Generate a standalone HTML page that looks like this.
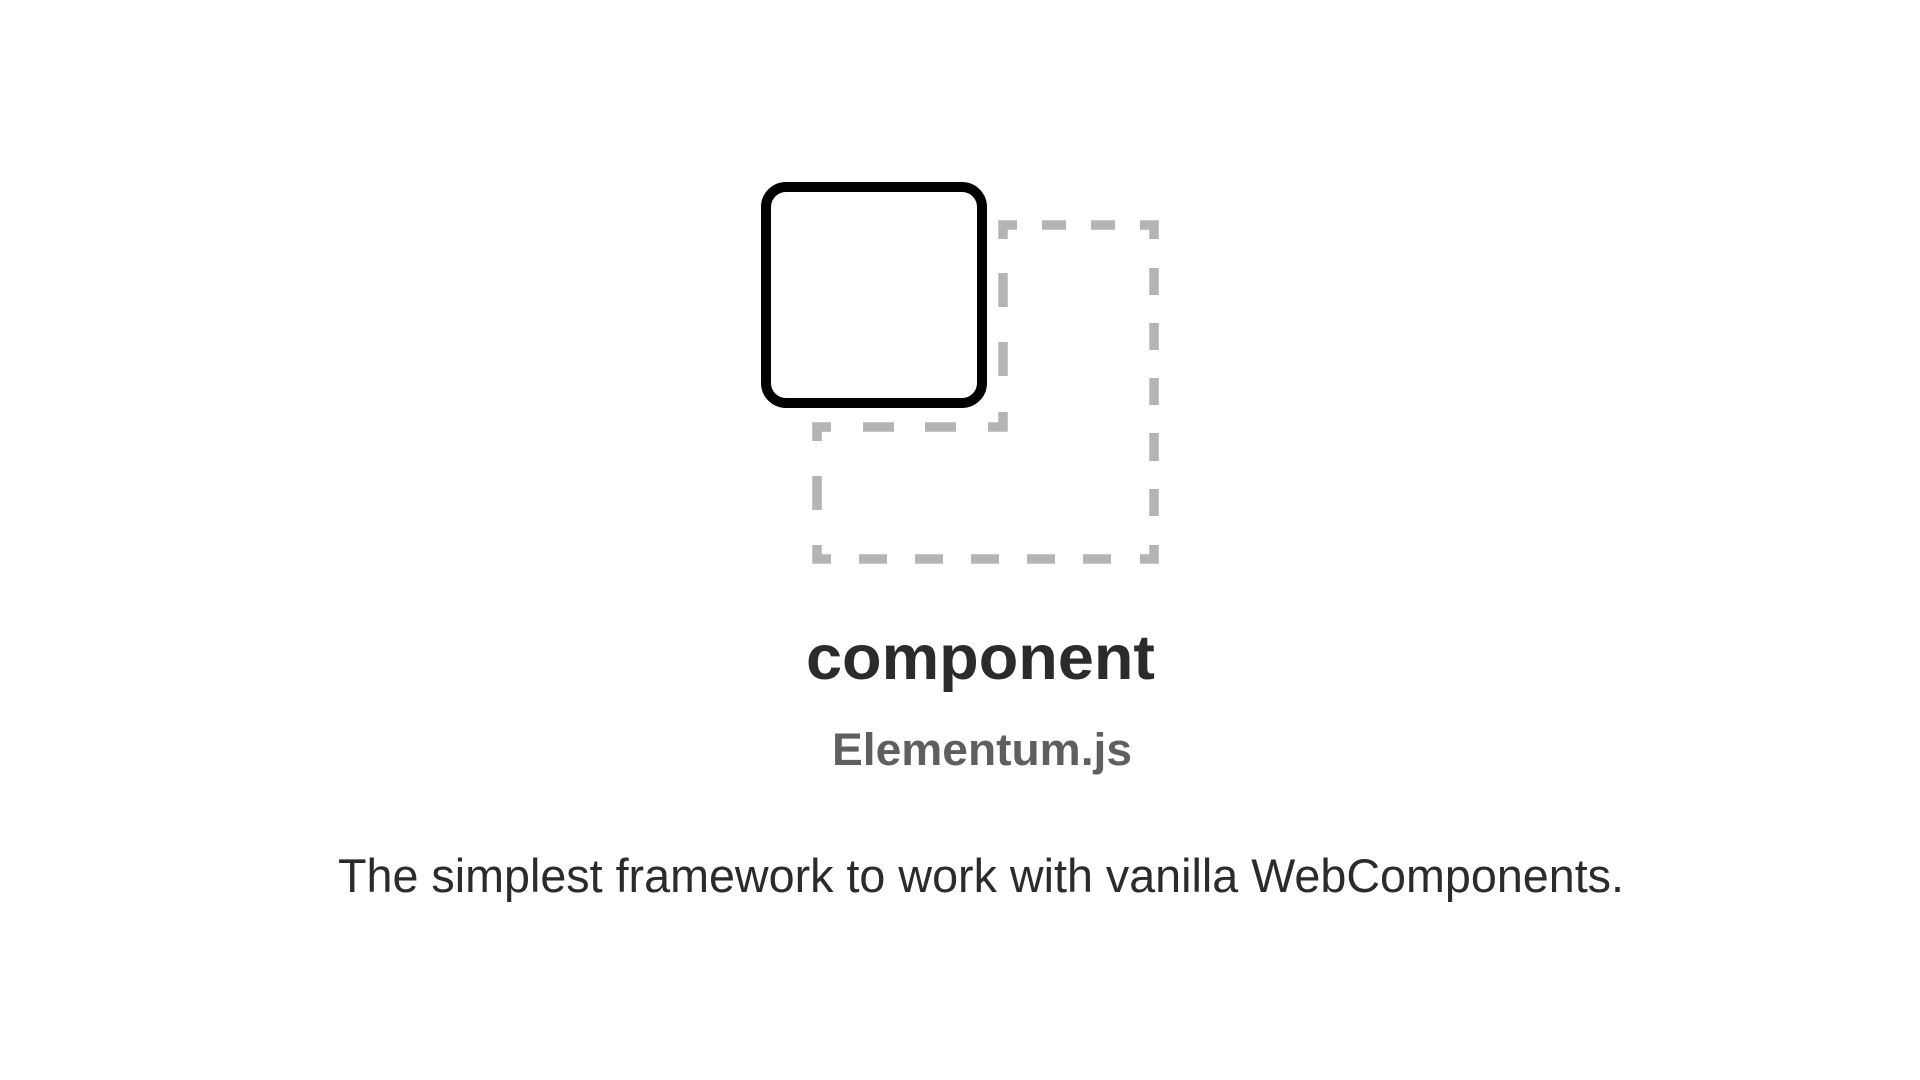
<!DOCTYPE html>
<html><head><meta charset="utf-8"><style>
html,body{margin:0;padding:0;background:#fff;width:1920px;height:1080px;overflow:hidden}
svg{display:block}
</style></head><body>
<svg width="1920" height="1080" viewBox="0 0 1920 1080" xmlns="http://www.w3.org/2000/svg">
<rect width="1920" height="1080" fill="#fff"/>
<g fill="none" stroke="#b4b4b4" stroke-width="9.5">
<path d="M1003 239 V225 H1017" />
<line x1="1042" y1="225" x2="1066" y2="225"/>
<line x1="1091" y1="225" x2="1115" y2="225"/>
<path d="M1140 225 H1154 V239"/>
<line x1="1154" y1="268" x2="1154" y2="295"/>
<line x1="1154" y1="323" x2="1154" y2="350"/>
<line x1="1154" y1="378" x2="1154" y2="405"/>
<line x1="1154" y1="433" x2="1154" y2="461"/>
<line x1="1154" y1="489" x2="1154" y2="516"/>
<path d="M1154 545 V559 H1140"/>
<line x1="1111" y1="559" x2="1083" y2="559"/>
<line x1="1055" y1="559" x2="1027" y2="559"/>
<line x1="999" y1="559" x2="971" y2="559"/>
<line x1="943" y1="559" x2="915" y2="559"/>
<line x1="887" y1="559" x2="859" y2="559"/>
<path d="M831 559 H817 V545"/>
<line x1="817" y1="510" x2="817" y2="476"/>
<path d="M817 441 V427 H831"/>
<line x1="863" y1="427" x2="894" y2="427"/>
<line x1="925" y1="427" x2="956" y2="427"/>
<path d="M988 427 H1003 V412"/>
<line x1="1003" y1="376" x2="1003" y2="342"/>
<line x1="1003" y1="307" x2="1003" y2="273"/>
</g>
<rect x="766" y="187" width="216" height="216" rx="20" ry="20" fill="#fff" stroke="#000" stroke-width="10"/>
<text x="806" y="679" textLength="349" lengthAdjust="spacingAndGlyphs" font-family="Liberation Sans, sans-serif" font-weight="bold" font-size="63" fill="#2b2b2b">component</text>
<text x="832" y="765" textLength="300" lengthAdjust="spacingAndGlyphs" font-family="Liberation Sans, sans-serif" font-weight="bold" font-size="45" fill="#5f5f5f">Elementum.js</text>
<text x="338" y="892" textLength="1286" lengthAdjust="spacingAndGlyphs" font-family="Liberation Sans, sans-serif" font-size="47" fill="#2b2b2b">The simplest framework to work with vanilla WebComponents.</text>
</svg>
</body></html>
